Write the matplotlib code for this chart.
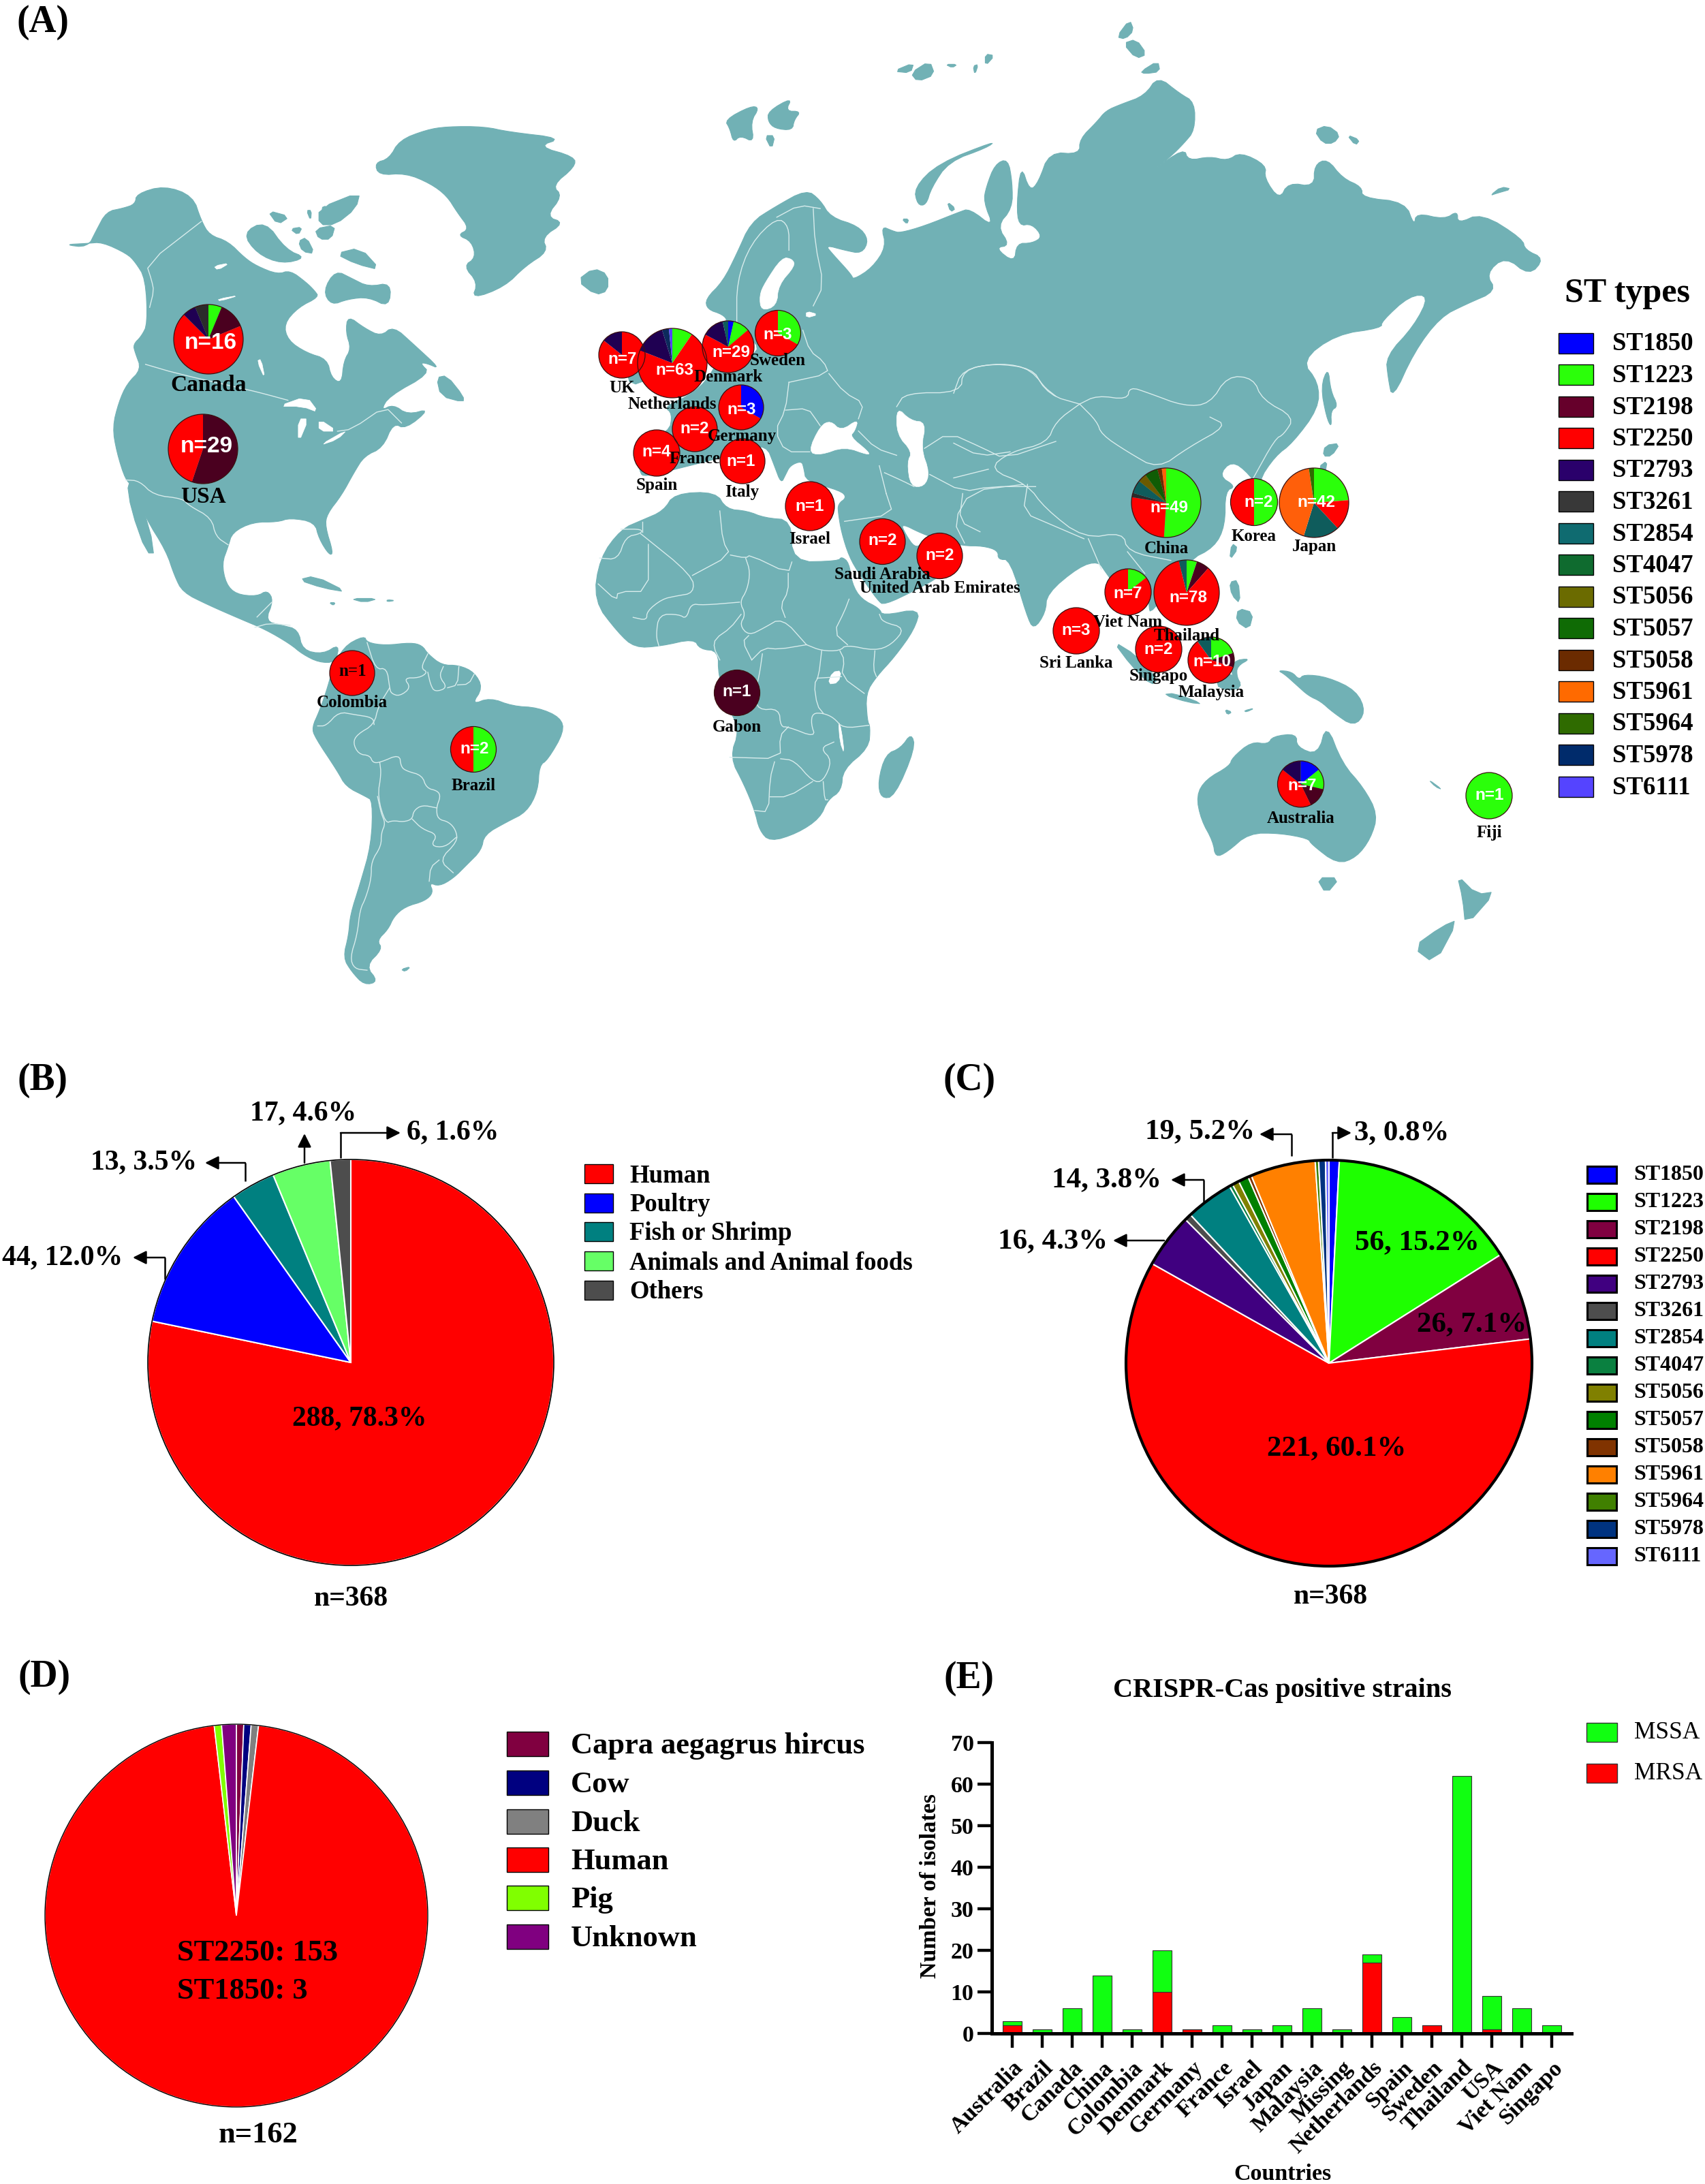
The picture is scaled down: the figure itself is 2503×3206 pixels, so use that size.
import matplotlib
matplotlib.use("Agg")
import matplotlib.pyplot as plt
from matplotlib.patches import Polygon, Rectangle, Circle

W, H = 2503, 3206
SERIF = "Liberation Serif"
SANS = "Liberation Sans"

# ---- data ----
st_types = ["ST1850", "ST1223", "ST2198", "ST2250", "ST2793", "ST3261", "ST2854", "ST4047",
            "ST5056", "ST5057", "ST5058", "ST5961", "ST5964", "ST5978", "ST6111"]

map_countries = ["Canada", "USA", "Colombia", "Brazil", "UK", "Netherlands", "Denmark", "Sweden",
                 "Germany", "France", "Spain", "Italy", "Israel", "Saudi Arabia",
                 "United Arab Emirates", "Gabon", "China", "Korea", "Japan", "Viet Nam",
                 "Thailand", "Sri Lanka", "Singapo", "Malaysia", "Australia", "Fiji"]
map_counts = [
    {"ST1223": 1, "ST2198": 2, "ST2250": 11, "ST2793": 1, "ST3261": 1},
    {"ST2198": 16, "ST2250": 13},
    {"ST2250": 1},
    {"ST1223": 1, "ST2250": 1},
    {"ST2250": 6, "ST2793": 1},
    {"ST1223": 6, "ST2250": 45, "ST2793": 9, "ST5978": 2, "ST6111": 1},
    {"ST1850": 1, "ST1223": 3, "ST2250": 20, "ST2793": 4, "ST2854": 1},
    {"ST1223": 1, "ST2250": 2},
    {"ST1850": 1, "ST2250": 2},
    {"ST2250": 2},
    {"ST2250": 4},
    {"ST2250": 1},
    {"ST2250": 1},
    {"ST2250": 2},
    {"ST2250": 2},
    {"ST2198": 1},
    {"ST1223": 25, "ST2250": 13, "ST3261": 1, "ST2854": 3, "ST5056": 2, "ST5057": 3, "ST5058": 1, "ST5961": 1},
    {"ST1223": 1, "ST2250": 1},
    {"ST1223": 10, "ST2250": 6, "ST2854": 7, "ST5961": 18, "ST5964": 1},
    {"ST1223": 1, "ST2250": 6},
    {"ST1223": 4, "ST2198": 5, "ST2250": 66, "ST2854": 3},
    {"ST2250": 3},
    {"ST2250": 2},
    {"ST1223": 2, "ST2198": 1, "ST2250": 6, "ST2854": 1},
    {"ST1850": 1, "ST1223": 1, "ST2198": 1, "ST2250": 3, "ST2793": 1},
    {"ST1223": 1},
]

source_names = ["Human", "Poultry", "Fish or Shrimp", "Animals and Animal foods", "Others"]
source_counts = [288, 44, 13, 17, 6]

st_counts = [3, 56, 26, 221, 16, 2, 14, 1, 2, 3, 1, 19, 1, 2, 1]

host_names = ["Capra aegagrus hircus", "Cow", "Duck", "Human", "Pig", "Unknown"]
host_counts = [1, 1, 1, 156, 1, 2]

bar_countries = ["Australia", "Brazil", "Canada", "China", "Colombia", "Denmark", "Germany", "France",
                 "Israel", "Japan", "Malaysia", "Missing", "Netherlands", "Spain", "Sweden",
                 "Thailand", "USA", "Viet Nam", "Singapo"]
mrsa = [2, 0, 0, 0, 0, 10, 1, 0, 0, 0, 0, 0, 17, 0, 2, 0, 1, 0, 0]
mssa = [1, 1, 6, 14, 1, 10, 0, 2, 1, 2, 6, 1, 2, 4, 0, 62, 8, 6, 2]

# ---- styles ----
LAND = "#71b1b5"
BORDER = "#d8ecec"
legend_cols = ["#0000ff", "#2bff0a", "#66002b", "#ff0000", "#2a006b", "#383838", "#0f6b70", "#0f6b2f",
               "#6b6b00", "#0f6b05", "#6b2b00", "#ff6a00", "#2f6b00", "#002b6b", "#5544ff"]
map_pie_cols = dict(zip(st_types, legend_cols))
map_pie_cols.update({"ST2198": "#4a001f", "ST2793": "#1f0052", "ST3261": "#2b2b2b", "ST2854": "#0f5c5c",
                     "ST5961": "#ff5f0a", "ST5978": "#0c2a5c", "ST5057": "#0f5c05", "ST5056": "#6b5a00"})
st_cols = ["#0000ff", "#1eff00", "#800040", "#ff0000", "#400080", "#4d4d4d", "#008080", "#0a8040",
           "#808000", "#008000", "#803300", "#ff8000", "#408000", "#003380", "#6666ff"]
source_cols = ["#ff0000", "#0000ff", "#008080", "#66ff66", "#4d4d4d"]
host_cols = ["#800040", "#000080", "#808080", "#ff0000", "#80ff00", "#800080"]

# centre x, centre y, radius, n-label x, n-label y, country-label x, y
map_layout = {
    "Canada": (306, 498, 51, 309, 504, 306, 565), "USA": (298, 659, 51, 303, 655, 298, 729),
    "Colombia": (517, 988, 33, 518, 986, 517, 1031), "Brazil": (695, 1100, 33.5, 697, 1099, 695, 1153),
    "UK": (913, 521, 34, 914, 528, 913, 570), "Netherlands": (987, 533, 51, 990, 544, 987, 593),
    "Denmark": (1069, 509, 38, 1073, 517, 1069, 554), "Sweden": (1142, 489, 33.5, 1142, 491, 1142, 529),
    "Germany": (1088, 598, 33, 1089, 602, 1089, 641), "France": (1020, 630, 33, 1020, 630, 1020, 674),
    "Spain": (964, 665, 34, 964, 664, 964, 712), "Italy": (1090, 677, 33, 1088, 677, 1089, 722),
    "Israel": (1189, 743, 36, 1189, 743, 1189, 791), "Saudi Arabia": (1295.5, 795, 33.5, 1295.5, 794, 1295.5, 844),
    "United Arab Emirates": (1379.5, 816, 33.5, 1379.5, 816, 1379.5, 863),
    "Gabon": (1082, 1017, 33.5, 1082, 1016, 1082, 1067), "China": (1712, 738, 51, 1716, 746, 1712, 805),
    "Korea": (1841, 737, 34.5, 1848, 737, 1841, 788), "Japan": (1929, 738, 51, 1932, 737, 1929, 802),
    "Viet Nam": (1656, 869, 34, 1656, 872, 1656, 914), "Thailand": (1742, 870, 48, 1744, 877, 1742, 933),
    "Sri Lanka": (1580, 926, 34, 1580, 925, 1580, 973), "Singapo": (1701, 953, 34, 1701, 953, 1701, 993),
    "Malaysia": (1778, 969, 34, 1779, 971, 1778, 1016), "Australia": (1909.5, 1151, 34, 1912, 1153, 1909.5, 1202),
    "Fiji": (2186, 1168, 34, 2187, 1168, 2186, 1223),
}


# crop-to-figure helpers, the outlines below were traced on these crops
def crop(x0, y0, fx, fy):
    def f(pts):
        return [(x0 + a / fx, y0 + b / fy) for a, b in pts]
    return f


z1 = crop(800, 420, 3, 3)
z2 = crop(1500, 650, 2.85, 2.53)
z7 = crop(50, 130, 1.65, 1.65)
z8 = crop(400, 850, 2.412, 2.412)
z9 = crop(750, 0, 1.96, 1.96)
z10 = crop(1400, 0, 1.568, 1.568)
z11 = crop(800, 750, 2.24, 2.24)
sm = crop(0, 0, 1 / 2.045, 1 / 2.045)

land = [
    # Greenland
    z7([(825, 180), (860, 170), (885, 125), (950, 100), (1000, 92), (1090, 92), (1150, 105), (1280, 120), (1220, 140),
        (1310, 165), (1310, 190), (1255, 235), (1280, 260), (1240, 310), (1285, 325), (1230, 360), (1245, 395),
        (1190, 430), (1140, 480), (1060, 510), (1075, 470), (1040, 430), (1070, 410), (1060, 370), (1025, 355),
        (1055, 340), (1025, 300), (1000, 260), (960, 230), (900, 205), (835, 210)]),
    # North and Central America
    z7([(72, 378), (130, 385), (150, 345), (175, 298), (215, 290), (245, 280), (248, 255), (315, 235), (385, 260),
        (405, 320), (425, 355), (470, 370), (510, 410), (540, 430), (590, 450), (620, 440), (660, 470), (680, 490),
        (690, 505), (640, 530), (605, 570), (615, 610), (660, 640), (710, 655), (720, 700), (745, 715), (750, 660),
        (768, 630), (755, 590), (760, 550), (800, 580), (840, 600), (870, 575), (920, 620), (985, 680), (950, 665),
        (935, 665), (960, 690), (860, 745), (840, 780), (870, 765), (905, 790), (960, 775), (900, 825), (870, 810),
        (845, 870), (800, 890), (775, 930), (745, 985), (710, 1030), (705, 1060), (725, 1125), (715, 1130),
        (690, 1090), (680, 1050), (620, 1040), (590, 1050), (530, 1050), (480, 1075), (470, 1110), (455, 1150),
        (465, 1200), (490, 1225), (540, 1230), (565, 1215), (580, 1240), (560, 1290), (600, 1300), (640, 1310),
        (650, 1360), (700, 1370), (740, 1345), (730, 1390), (690, 1390), (650, 1370), (620, 1345), (560, 1310),
        (500, 1285), (420, 1250), (360, 1220), (340, 1180), (320, 1120), (270, 1040), (240, 960), (222, 950),
        (200, 880), (190, 820), (205, 760), (225, 715), (260, 680), (245, 640), (240, 620), (260, 600), (275, 570),
        (270, 460), (245, 420), (225, 400), (165, 372), (130, 375)]),
    z7([(225, 950), (250, 965), (295, 1125), (272, 1125), (235, 1020)]),
    # Canadian Arctic
    z7([(700, 490), (730, 440), (770, 460), (810, 480), (865, 470), (860, 530), (810, 505), (760, 510), (720, 525)]),
    z7([(690, 290), (790, 250), (780, 290), (730, 330), (690, 330)]),
    z7([(505, 350), (560, 320), (610, 390), (660, 410), (600, 425), (540, 400)]),
    z7([(565, 295), (620, 310), (590, 330)]), z7([(660, 295), (672, 295), (670, 320)]),
    z7([(640, 370), (660, 360), (680, 400), (650, 395)]), z7([(680, 340), (730, 330), (720, 365), (690, 365)]),
    z7([(700, 280), (720, 300), (695, 310)]), z7([(975, 700), (1000, 695), (1040, 745), (1040, 760), (985, 745)]),
    z7([(620, 340), (650, 335), (640, 355)]), z7([(730, 400), (790, 385), (840, 440), (780, 425)]),
    # Caribbean
    z7([(640, 1190), (680, 1180), (760, 1220), (700, 1210)]), z7([(765, 1235), (835, 1235), (800, 1245)]),
    z7([(715, 1245), (730, 1245), (725, 1252)]), z7([(855, 1238), (875, 1240), (855, 1243)]),
    # Iceland, UK
    z7([(1315, 465), (1355, 435), (1390, 450), (1390, 490), (1360, 500)]),
    z9([(340, 960), (400, 1040), (400, 1090), (345, 1110), (330, 1060)]),
    # South America
    z8([(250, 240), (325, 200), (335, 225), (400, 235), (490, 225), (530, 235), (550, 265), (600, 305), (660, 305),
        (715, 330), (745, 385), (705, 445), (770, 420), (850, 450), (940, 455), (1020, 490), (1033, 540), (975, 640),
        (945, 660), (940, 750), (900, 825), (830, 860), (750, 905), (740, 960), (690, 1010), (640, 1060), (590, 1088),
        (555, 1075), (570, 1110), (540, 1140), (470, 1160), (430, 1195), (410, 1240), (370, 1280), (390, 1310),
        (330, 1370), (375, 1425), (325, 1438), (280, 1390), (250, 1340), (270, 1260), (275, 1190), (310, 1080),
        (350, 940), (355, 785), (330, 770), (260, 735), (230, 680), (150, 560), (140, 525), (165, 470), (190, 400),
        (210, 330)]),
    z8([(455, 1382), (490, 1372), (470, 1390)]),
    # Africa, Egypt is left out of the base map
    z11([(812, 168), (965, 165), (975, 150), (1000, 170), (1010, 240), (1040, 290), (1100, 320), (1110, 345),
         (1235, 320), (1215, 390), (1150, 480), (1090, 545), (1055, 600), (1060, 690), (1070, 710), (1065, 780),
         (980, 850), (975, 920), (930, 950), (905, 1010), (830, 1060), (740, 1088), (705, 1050), (690, 985),
         (655, 900), (608, 810), (640, 720), (600, 640), (570, 540), (570, 460), (510, 455), (490, 420), (380, 445),
         (295, 450), (240, 400), (160, 295), (180, 155), (250, 60), (320, 30), (390, 0)])
    + z9([(470, 1420), (590, 1415), (620, 1465), (680, 1470), (730, 1490)]) + z11([(812, 30)]),
    z11([(1205, 730), (1218, 780), (1150, 940), (1105, 945), (1095, 890), (1120, 800), (1170, 780)]),
    # Eurasia
    z9([(360, 1270), (455, 1245), (465, 1190), (440, 1170), (530, 1130), (590, 1060), (625, 925), (610, 905),
        (565, 890), (560, 860), (610, 810), (650, 730), (690, 640), (760, 595), (850, 545), (890, 575), (920, 625),
        (1000, 650), (1030, 690), (1010, 730), (960, 720), (905, 705), (925, 730), (980, 790), (985, 805), (1040, 770),
        (1080, 710), (1065, 650), (1100, 665), (1120, 670), (1190, 650), (1290, 610), (1320, 600), (1390, 655),
        (1360, 580)])
    + z10([(75, 430), (95, 378), (125, 365), (135, 420), (135, 480), (100, 520), (130, 565), (95, 570), (140, 605),
           (145, 560), (180, 560), (205, 545), (180, 515), (150, 520), (145, 470), (155, 378), (175, 440), (195, 420),
           (220, 350), (290, 355), (290, 320), (330, 280), (350, 255), (385, 240), (440, 220), (470, 175), (520, 215),
           (555, 235), (555, 300), (530, 330), (500, 360), (450, 400), (530, 340), (540, 370), (590, 360), (630, 370),
           (660, 350), (720, 380), (715, 410), (750, 460), (770, 420), (830, 430), (830, 380), (860, 365), (895, 410),
           (940, 430), (940, 455), (1040, 465), (1060, 520), (1065, 490), (1130, 505), (1160, 485), (1160, 515),
           (1215, 490), (1310, 550), (1315, 575), (1360, 595), (1325, 635), (1270, 590), (1225, 630), (1250, 670),
           (1180, 700), (1120, 730), (1060, 810), (1010, 920), (1000, 870), (995, 820), (1060, 750), (1095, 680),
           (1050, 680), (985, 740), (985, 755), (880, 770), (800, 830), (840, 880), (840, 940), (780, 1020),
           (740, 1050), (700, 1110), (720, 1150), (680, 1090), (640, 1060), (610, 1095), (650, 1120), (625, 1130),
           (625, 1210), (600, 1260), (540, 1290)])
    + z2([(540, 640), (530, 600), (540, 520), (445, 640), (400, 540), (350, 480), (320, 440), (240, 460), (105, 560),
          (100, 630), (50, 695), (20, 640)])
    + z11([(1530, 160), (1490, 160), (1490, 130), (1440, 115), (1375, 115), (1300, 95), (1240, 75), (1170, 40),
           (1185, 75), (1215, 120), (1240, 110), (1340, 175), (1300, 215), (1220, 260), (1115, 310), (1095, 295),
           (1035, 210), (1000, 150), (975, 70), (965, 10)])
    + z1([(1290, 960), (1330, 930), (1300, 900), (1150, 860), (1140, 800), (1130, 770), (1080, 790), (1060, 830),
          (1040, 870), (1010, 790), (975, 700), (870, 720), (760, 760), (600, 800), (440, 840)])
    + z9([(370, 1360)]),
    # Arctic islands
    z9([(615, 345), (690, 305), (715, 310), (690, 350), (700, 410), (660, 390), (640, 410), (630, 370)]),
    z9([(740, 320), (810, 280), (790, 320), (835, 320), (815, 345), (810, 375), (760, 370), (740, 350)]),
    z9([(730, 390), (760, 390), (750, 430)]), z9([(1100, 205), (1160, 180), (1150, 210)]),
    z9([(1150, 210), (1205, 175), (1220, 215), (1170, 235)]), z9([(1250, 185), (1285, 185), (1270, 195)]),
    z9([(1330, 190), (1345, 185), (1335, 215)]), z9([(1365, 155), (1392, 160), (1365, 190)]),
    z9([(1160, 540), (1230, 470), (1395, 405), (1370, 425), (1260, 465), (1210, 540), (1195, 590), (1170, 590)]),
    z9([(1125, 630), (1145, 630), (1140, 645)]), z9([(1255, 580), (1280, 600), (1265, 610)]),
    z10([(375, 85), (405, 45), (415, 70), (395, 90)]), z10([(390, 100), (420, 90), (445, 125), (420, 135)]),
    z10([(430, 165), (470, 140), (475, 165), (440, 170)]),
    z10([(830, 300), (860, 288), (890, 310), (875, 330), (850, 330)]), z10([(905, 310), (935, 322), (925, 335)]),
    z10([(1235, 450), (1260, 430), (1285, 435), (1250, 445)]),
    # Japan, Sakhalin, Taiwan, Philippines
    z10([(862, 845), (868, 900), (885, 935), (868, 945), (870, 985), (858, 960), (845, 890)]),
    z10([(850, 1050), (855, 1025), (890, 1020), (870, 1050)]), z10([(840, 1075), (860, 1060), (855, 1090)]),
    z10([(640, 1250), (655, 1262), (635, 1290)]), z10([(635, 1340), (655, 1335), (660, 1390), (640, 1370)]),
    z10([(655, 1400), (690, 1410), (680, 1450), (650, 1430)]),
    # Indonesia, New Guinea
    z2([(380, 735), (480, 790), (570, 880), (540, 900), (460, 830)]),
    z2([(590, 935), (640, 930), (760, 970), (700, 965)]),
    z2([(840, 850), (900, 870), (920, 910), (860, 920), (810, 900)]),
    z2([(880, 810), (960, 800), (900, 830), (900, 870), (920, 900), (880, 880)]),
    z2([(850, 990), (880, 1000), (860, 1010)]), z2([(930, 995), (975, 985), (940, 1000)]),
    z2([(1070, 845), (1130, 850), (1160, 880), (1180, 860), (1280, 870), (1400, 920), (1440, 1000), (1390, 1055),
        (1300, 1000), (1250, 960), (1200, 940), (1150, 900), (1100, 860)]),
    # Australia, New Zealand
    z2([(730, 1310), (770, 1250), (870, 1200), (880, 1170), (960, 1110), (1030, 1120), (1050, 1090), (1150, 1080),
        (1150, 1130), (1240, 1160), (1275, 1040), (1340, 1190), (1430, 1280), (1490, 1380), (1460, 1470), (1400, 1540),
        (1320, 1565), (1210, 1490), (1200, 1470), (1080, 1450), (950, 1450), (860, 1520), (810, 1540), (800, 1480),
        (750, 1400)]),
    sm([(945, 630), (962, 630), (952, 642)]),
    sm([(1046, 628), (1060, 642), (1074, 640), (1052, 665), (1050, 645)]),
    sm([(1047, 660), (1030, 692), (1014, 680), (1035, 665)]),
    crop(2000, 400, 2.98, 1.96)([(288, 1458), (350, 1488), (320, 1480)]),
]

water = [
    z7([(590, 770), (660, 745), (690, 785), (650, 770)]), z7([(640, 800), (665, 800), (640, 860)]),
    z7([(690, 800), (735, 830), (690, 830)]), z7([(690, 865), (760, 825), (735, 850)]),
    z7([(540, 660), (550, 655), (560, 705)]), z7([(435, 430), (475, 422), (445, 440)]),
    z7([(445, 510), (500, 500), (450, 515)]),
    z9([(780, 740), (810, 745), (818, 765), (770, 820), (765, 880), (720, 895), (715, 850), (730, 815)]),
    z9([(850, 895), (885, 905), (850, 915)]), z9([(690, 975), (710, 1000), (695, 1020)]),
    z9([(855, 1300), (890, 1225), (920, 1210), (950, 1240), (1000, 1205), (990, 1240), (975, 1255), (1030, 1300),
        (1030, 1310), (960, 1285), (890, 1310)]),
    z9([(1110, 1170), (1150, 1210), (1195, 1215), (1180, 1290), (1205, 1360), (1190, 1400), (1150, 1400), (1140, 1330),
        (1155, 1300), (1110, 1250)]),
    z11([(945, 530), (975, 525), (965, 565), (930, 570)]),
    z11([(965, 690), (975, 720), (985, 800), (970, 760)]),
]

borders = [
    z7([(405, 322), (272, 425), (285, 465), (290, 490), (280, 530)]),
    z7([(270, 668), (345, 690), (520, 730), (560, 740), (615, 755)]),
    z7([(735, 830), (770, 825), (850, 770), (880, 800), (890, 810)]),
    z7([(222, 948), (255, 950), (290, 985), (360, 993), (375, 1010), (430, 1040), (440, 1085), (470, 1105)]),
    z7([(540, 1280), (575, 1245)]), z7([(535, 1305), (570, 1295), (620, 1300)]),
    z8([(335, 225), (365, 320), (405, 315), (415, 385), (420, 405), (450, 415), (490, 385), (465, 350), (520, 350),
        (550, 330), (525, 315), (550, 265)]),
    z8([(550, 330), (560, 375), (575, 400), (620, 385), (590, 345), (605, 310)]),
    z8([(660, 310), (655, 375), (620, 385)]), z8([(715, 335), (695, 372), (655, 375)]),
    z8([(415, 385), (375, 450), (360, 515), (300, 550), (285, 580), (305, 620), (345, 625), (355, 650), (380, 650),
        (450, 620), (455, 665), (475, 680), (530, 695), (545, 740), (585, 750), (595, 770), (580, 810), (585, 850),
        (625, 860), (650, 890), (655, 930), (590, 995), (640, 1040)]),
    z8([(160, 520), (190, 520), (235, 470), (290, 480), (355, 490), (360, 515)]),
    z8([(380, 650), (385, 690), (372, 770), (400, 865), (425, 855), (465, 860), (495, 850), (500, 820), (530, 800),
        (580, 810)]),
    z8([(495, 850), (530, 885), (585, 905), (560, 945), (610, 950), (650, 915)]),
    z8([(372, 770), (385, 830), (400, 865), (385, 900), (385, 945), (350, 1000), (350, 1060), (330, 1130), (310, 1170),
        (300, 1260), (275, 1340), (290, 1380), (335, 1385)]),
    z8([(590, 995), (560, 1020), (555, 1070)]),
    z11([(250, 60), (320, 60), (315, 75), (265, 85), (240, 160), (180, 155)]),
    z11([(315, 75), (485, 212), (490, 270), (430, 280), (385, 290), (335, 330), (335, 360), (290, 350)]),
    z11([(340, 110), (340, 265), (240, 265), (235, 295), (175, 240)]),
    z11([(320, 35), (320, 70)]), z11([(575, 0), (585, 100), (610, 145), (485, 212)]),
    z11([(610, 145), (660, 155), (675, 145), (800, 205), (812, 168)]),
    z11([(660, 155), (675, 200), (665, 260), (640, 300), (660, 340), (640, 375), (670, 410), (720, 385), (780, 350),
         (860, 440)]),
    z11([(800, 205), (800, 265), (775, 310), (790, 350)]),
    z11([(640, 300), (520, 310), (480, 305), (465, 355), (440, 340), (375, 340), (365, 410), (375, 445)]),
    z11([(645, 340), (610, 385), (560, 420), (555, 450), (575, 490)]),
    z11([(670, 410), (650, 430), (680, 490)]),
    z11([(860, 440), (910, 460), (970, 460), (990, 440), (1085, 460), (1140, 440), (1185, 385), (1110, 365), (1100, 340)]),
    z11([(1000, 290), (985, 330), (950, 400), (995, 440)]), z11([(1085, 460), (1080, 520), (1090, 545)]),
    z11([(970, 460), (985, 490), (975, 545), (1050, 600)]),
    z11([(910, 460), (900, 545), (885, 570), (895, 640), (915, 665)]),
    z11([(680, 490), (720, 450), (770, 455), (860, 440)]),
    z11([(715, 470), (705, 540), (690, 600), (700, 655), (770, 650), (775, 710), (800, 710), (890, 745), (875, 700),
         (880, 665), (915, 665), (950, 680), (980, 715), (1065, 705)]),
    z11([(800, 710), (772, 740), (775, 815), (608, 810)]),
    z11([(775, 815), (820, 820), (880, 890), (915, 890), (945, 820), (905, 780), (950, 760)]),
    z11([(755, 825), (740, 880), (735, 990), (690, 985)]), z11([(740, 940), (800, 940), (880, 890)]),
    z11([(915, 890), (920, 950), (930, 950)]), z11([(895, 550), (975, 545)]),
    z9([(650, 930), (650, 810), (690, 700), (765, 625), (800, 650), (800, 720)]),
    z9([(765, 625), (830, 590), (890, 600)]),
    z9([(870, 600), (875, 700), (900, 820), (870, 880)]),
    z9([(840, 950), (860, 1010), (900, 1040), (915, 1075), (800, 1100)]),
    z9([(915, 1075), (960, 1130), (1015, 1160), (1000, 1205)]),
    z9([(790, 1180), (855, 1175), (880, 1210), (890, 1225)]),
    z9([(800, 1100), (790, 1180), (760, 1240), (790, 1300), (860, 1300)]),
    z9([(1000, 1240), (1050, 1290), (1110, 1310)]),
    z9([(1110, 1170), (1135, 1130), (1295, 1130), (1300, 1065), (1390, 1045), (1500, 1060), (1530, 1110), (1568, 1140)]),
    z9([(1060, 1340), (1080, 1420)]), z9([(1075, 1360), (1130, 1385), (1160, 1400)]),
    z9([(1205, 1365), (1300, 1415), (1380, 1400), (1510, 1400)]),
    z9([(1190, 1290), (1260, 1245), (1360, 1290), (1420, 1320), (1568, 1270)]),
    z9([(1080, 1420), (1100, 1480), (960, 1500)]), z9([(1300, 1420), (1290, 1500), (1350, 1530)]),
    z10([(0, 905), (20, 850), (110, 835), (180, 850), (220, 910), (290, 930)]),
    z10([(290, 930), (330, 910), (400, 920), (405, 890), (450, 905), (530, 935), (590, 930), (630, 865), (690, 870),
         (710, 920), (785, 960), (760, 1000), (740, 1010), (690, 1100)]),
    z10([(290, 930), (330, 970), (340, 1000), (400, 1040), (470, 1080), (540, 1030), (630, 980), (590, 960)]),
    z10([(290, 930), (235, 970), (215, 1020), (130, 1040), (80, 1080), (170, 1115), (210, 1170), (300, 1240), (390, 1225),
         (400, 1270), (500, 1290)]),
    z10([(160, 1115), (40, 1130), (0, 1200), (25, 1250)]),
    z10([(170, 1115), (160, 1180), (230, 1210), (300, 1240)]), z10([(310, 1240), (340, 1310)]),
    z10([(400, 1270), (440, 1320)]), z10([(0, 1020), (60, 1050), (130, 1040)]), z10([(80, 1080), (0, 1100)]),
]


def rounded(pts, closed=True):
    # corner cutting so the hand traced coast does not look faceted
    n = 1 if len(pts) < 6 else 2
    for _ in range(n):
        out = [] if closed else [pts[0]]
        m = len(pts)
        for i in range(m if closed else m - 1):
            p, q = pts[i], pts[(i + 1) % m]
            out.append((0.75 * p[0] + 0.25 * q[0], 0.75 * p[1] + 0.25 * q[1]))
            out.append((0.25 * p[0] + 0.75 * q[0], 0.25 * p[1] + 0.75 * q[1]))
        if not closed:
            out.append(pts[-1])
        pts = out
    return pts


fig = plt.figure(figsize=(W / 100, H / 100), dpi=100, facecolor="white")
ax = fig.add_axes([0, 0, 1, 1])
ax.set_xlim(0, W)
ax.set_ylim(H, 0)
ax.set_autoscale_on(False)
ax.axis("off")


def label(x, y, s, size, family=SERIF, weight="bold", color="black", ha="center", va="center", z=10, rot=0):
    ax.text(x, y, s, fontsize=size, family=family, fontweight=weight, color=color, ha=ha, va=va, zorder=z, rotation=rot)


def draw_pie(values, colors, cx, cy, r, sep=None, sep_w=0.0, rim="black", rim_w=1.0, z=5):
    # y axis runs downward, so counterclock here reads clockwise on the page
    wedges, _ = ax.pie(values, colors=colors, startangle=-90, counterclock=True, center=(cx, cy), radius=r, frame=True,
                       wedgeprops=dict(edgecolor=sep if sep else "none", linewidth=sep_w))
    for w in wedges:
        w.set_zorder(z)
    ax.add_patch(Circle((cx, cy), r, fill=False, ec=rim, lw=rim_w, zorder=z + 0.5))


def elbow(pts):
    xs, ys = zip(*pts[:-1])
    ax.plot(xs, ys, color="black", lw=1.8, zorder=8, solid_capstyle="butt")
    ax.annotate("", xy=pts[-1], xytext=pts[-2], zorder=8,
                arrowprops=dict(arrowstyle="-|>", color="black", lw=1.8, mutation_scale=30, shrinkA=0, shrinkB=0))


def swatches(x0, x1, ys, h, colors, edge="black", lw=1.0):
    for y, c in zip(ys, colors):
        ax.add_patch(Rectangle((x0, y - h / 2), x1 - x0, h, fc=c, ec=edge, lw=lw, zorder=6))


# ---- (A) map ----
for poly in land:
    ax.add_patch(Polygon(rounded(poly), closed=True, fc=LAND, ec=LAND, lw=0.8, zorder=1))
for poly in water:
    ax.add_patch(Polygon(rounded(poly), closed=True, fc="white", ec="white", lw=0.5, zorder=2))
for line in borders:
    xs, ys = zip(*rounded(line, closed=False))
    ax.plot(xs, ys, color=BORDER, lw=1.0, zorder=3)

for name, counts in zip(map_countries, map_counts):
    cx, cy, r, nx, ny, lx, ly = map_layout[name]
    draw_pie(list(counts.values()), [map_pie_cols[k] for k in counts], cx, cy, r, rim="#3a1010", rim_w=0.9)
for name, counts in zip(map_countries, map_counts):
    cx, cy, r, nx, ny, lx, ly = map_layout[name]
    n = sum(counts.values())
    big = name in ("Canada", "USA")
    if name == "Colombia":
        label(nx, ny, f"n={n}", 18)
    else:
        label(nx, ny, f"n={n}", 24 if big else 17.5, family=SANS, color="white")
    label(lx, ly, name, 24 if big else 18)

label(2389, 431, "ST types", 36)
swatches(2288, 2339, [503.6 + 46.5 * i for i in range(15)], 30, legend_cols)
for i, s in enumerate(st_types):
    label(2367, 505 + 46.5 * i, s, 26.5, ha="left")

label(63, 33, "(A)", 40)

# ---- (B) sources ----
label(62, 1586, "(B)", 40)
draw_pie(source_counts, source_cols, 515, 2000, 298, sep="white", sep_w=1.5, rim="black", rim_w=1.2)
label(528, 2082, "288, 78.3%", 30)
label(445, 1634, "17, 4.6%", 30)
label(665, 1662, "6, 1.6%", 30)
label(211, 1706, "13, 3.5%", 30)
label(92, 1846, "44, 12.0%", 30)
label(515, 2347, "n=368", 30)
elbow([(447, 1707), (447, 1664)])
elbow([(500, 1700), (500, 1663), (588, 1663)])
elbow([(360, 1734), (360, 1707), (301, 1707)])
elbow([(242, 1878), (242, 1846), (195, 1846)])
ys_b = [1723, 1765.5, 1808, 1851, 1894]
swatches(858, 900, ys_b, 28, source_cols, lw=1.0)
for y, s in zip(ys_b, source_names):
    label(924, y + 3, s, 26.5, ha="left")

# ---- (C) ST types ----
label(1423, 1586, "(C)", 40)
draw_pie(st_counts, st_cols, 1951, 2001, 298, sep="white", sep_w=1.5, rim="black", rim_w=3.0)
label(2080, 1824, "56, 15.2%", 31)
label(2161, 1944, "26, 7.1%", 31)
label(1962, 2126, "221, 60.1%", 31)
label(1762, 1661, "19, 5.2%", 31)
label(2058, 1663, "3, 0.8%", 31)
label(1625, 1732, "14, 3.8%", 31)
label(1546, 1822, "16, 4.3%", 31)
label(1953, 2344, "n=368", 30)
elbow([(1896, 1697), (1896, 1665), (1849, 1665)])
elbow([(1956, 1700), (1956, 1663), (1984, 1663)])
elbow([(1767, 1764), (1767, 1732), (1719, 1732)])
elbow([(1709, 1821), (1634, 1821)])
ys_c = [1724 + 40 * i for i in range(15)]
swatches(2330, 2373, ys_c, 25, st_cols, lw=2.2)
for y, s in zip(ys_c, st_types):
    label(2398, y + 1, s, 23, ha="left")

# ---- (D) hosts ----
label(65, 2462, "(D)", 40)
draw_pie(host_counts, host_cols, 347, 2812, 281, sep="white", sep_w=1.2, rim="black", rim_w=1.0)
label(260, 2867, "ST2250: 153", 32, ha="left")
label(260, 2923, "ST1850: 3", 32, ha="left")
label(379, 3134, "n=162", 32)
ys_d = [2560, 2617, 2674, 2730, 2786, 2843]
swatches(744, 805, ys_d, 36, host_cols, lw=1.0)
for y, s in zip(ys_d, host_names):
    label(838, y + 3, s, 32, ha="left")

# ---- (E) bars ----
label(1422, 2464, "(E)", 40)
label(1883, 2482, "CRISPR-Cas positive strains", 29)
label(1366, 2769, "Number of isolates", 24.5, rot=90)
label(1883, 3192, "Countries", 24.5)
swatches(2329, 2374, [2543, 2603], 28, ["#11ff11", "#ff0000"], edge="#333333", lw=1.0)
label(2399, 2544, "MSSA", 25.5, weight="normal", ha="left")
label(2399, 2604, "MRSA", 25.5, weight="normal", ha="left")

bx = fig.add_axes([1456 / W, 1 - 2985 / H, (2307 - 1456) / W, (2985 - 2558) / H])
pos = list(range(len(bar_countries)))
bx.bar(pos, mrsa, width=0.64, color="#ff0000", edgecolor="#333333", linewidth=0.8)
bx.bar(pos, mssa, width=0.64, bottom=mrsa, color="#11ff11", edgecolor="#333333", linewidth=0.8)
bx.set_xlim(-30 / 44, (2307 - 1486) / 44)
bx.set_ylim(0, 70)
bx.set_yticks(range(0, 71, 10))
bx.set_xticks(pos)
bx.set_xticklabels(bar_countries, rotation=45, ha="right", rotation_mode="anchor")
for t in bx.get_xticklabels() + bx.get_yticklabels():
    t.set_family(SERIF)
    t.set_fontweight("bold")
    t.set_fontsize(24.5)
bx.tick_params(axis="both", width=3.2, length=15, pad=4)
bx.tick_params(axis="x", pad=10)
for side in ("top", "right"):
    bx.spines[side].set_visible(False)
for side in ("left", "bottom"):
    bx.spines[side].set_linewidth(3.6)
bx.patch.set_alpha(0)

fig.savefig("out.png", dpi=100)
